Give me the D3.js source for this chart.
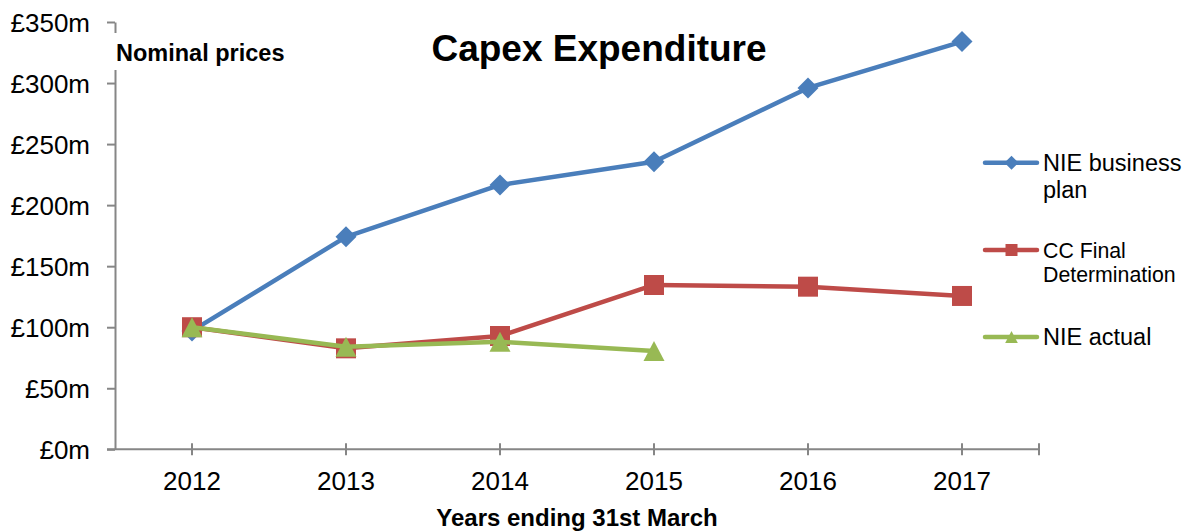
<!DOCTYPE html>
<html>
<head>
<meta charset="utf-8">
<script src="https://cdn.jsdelivr.net/npm/d3@7"></script>
<style>
  body { margin: 0; background: #fff; }
  svg { font-family: "Liberation Sans", Arial, sans-serif; }
</style>
</head>
<body>
<svg id="Chart" width="1194" height="532"></svg>
<script>
var years = ["2012", "2013", "2014", "2015", "2016", "2017"];
var businessPlan = [97, 174, 216.5, 235.5, 296, 334];
var ccFinal = [100, 82.7, 92.8, 134.6, 133.2, 125.6];
var nieActual = [100, 84, 88, 80.6];
var yTicks = [0, 50, 100, 150, 200, 250, 300, 350];

var series = [
  { name: ["NIE business", "plan"], values: businessPlan, color: "#4a7ebb", marker: "diamond" },
  { name: ["CC Final", "Determination"], values: ccFinal, color: "#be4b48", marker: "square" },
  { name: ["NIE actual"], values: nieActual, color: "#98b954", marker: "triangle" }
];
// legend row positions and text sizes
var legendY = [162.7, 250, 337];
var legendFont = [23.5, 21.3, 23.5];

var svg = d3.select("#Chart");
var axisColor = "#868686";

var x = d3.scaleBand().domain(years).range([115, 1039]).padding(0);
var y = d3.scaleLinear().domain([0, 350]).range([449.3, 22]);
function cx(i) { return x(years[i]) + x.bandwidth() / 2; }

// y axis
var yAxis = svg.append("g")
  .attr("transform", "translate(115,0)")
  .call(d3.axisLeft(y).tickValues(yTicks).tickSize(8).tickSizeOuter(0).tickPadding(17)
    .tickFormat(function(d) { return "£" + d + "m"; }));
yAxis.select(".domain").attr("stroke", axisColor).attr("stroke-width", 2);
yAxis.selectAll(".tick line").attr("stroke", axisColor).attr("stroke-width", 2);
yAxis.selectAll(".tick text")
  .attr("font-size", 26).attr("fill", "#000").attr("font-family", "Liberation Sans, Arial, sans-serif")
  .attr("dy", "0.36em");

// x axis
var xAxis = svg.append("g")
  .attr("transform", "translate(0,449.3)")
  .call(d3.axisBottom(x).tickSize(6).tickSizeOuter(0).tickPadding(14));
xAxis.select(".domain").attr("stroke", axisColor).attr("stroke-width", 2)
  .attr("d", "M107,0H1039");
xAxis.selectAll(".tick line").attr("stroke", axisColor).attr("stroke-width", 2).attr("y1", -6).attr("y2", 6);
xAxis.selectAll(".tick text")
  .attr("font-size", 26).attr("fill", "#000").attr("font-family", "Liberation Sans, Arial, sans-serif")
  .attr("y", 41).attr("dy", null);
xAxis.append("line")
  .attr("x1", 1039).attr("x2", 1039).attr("y1", -6).attr("y2", 6)
  .attr("stroke", axisColor).attr("stroke-width", 2);

// label box over the y axis
svg.append("rect").attr("x", 113).attr("y", 33).attr("width", 180).attr("height", 37).attr("fill", "#fff");
svg.append("text").attr("x", 116).attr("y", 60.7)
  .attr("font-size", 23.5).attr("font-weight", "bold").text("Nominal prices");

svg.append("text").attr("x", 599).attr("y", 61).attr("text-anchor", "middle")
  .attr("font-size", 37).attr("font-weight", "bold").text("Capex Expenditure");

svg.append("text").attr("x", 577).attr("y", 526).attr("text-anchor", "middle")
  .attr("font-size", 24).attr("font-weight", "bold").text("Years ending 31st March");

function markerPath(type, s) {
  if (type === "diamond") return "M0," + (-s) + "L" + s + ",0L0," + s + "L" + (-s) + ",0Z";
  if (type === "square") return "M" + (-s) + "," + (-s) + "H" + s + "V" + s + "H" + (-s) + "Z";
  return "M0," + (-s) + "L" + (s * 1.05) + "," + s + "L" + (-s * 1.05) + "," + s + "Z";
}

var line = d3.line()
  .x(function(d, i) { return cx(i); })
  .y(function(d) { return y(d); });

series.forEach(function(s, si) {
  var g = svg.append("g");
  g.append("path")
    .attr("d", line(s.values))
    .attr("fill", "none")
    .attr("stroke", s.color)
    .attr("stroke-width", 4.5)
    .attr("stroke-linejoin", "round");
  g.selectAll("path.mk")
    .data(s.values)
    .enter().append("path")
      .attr("class", "mk")
      .attr("transform", function(d, i) { return "translate(" + cx(i) + "," + y(d) + ")"; })
      .attr("d", markerPath(s.marker, s.marker === "diamond" ? 10.5 : 10))
      .attr("fill", s.color);

  // legend
  var ly = legendY[si], fs = legendFont[si];
  var lg = svg.append("g");
  lg.append("line")
    .attr("x1", 985).attr("x2", 1037).attr("y1", ly).attr("y2", ly)
    .attr("stroke", s.color).attr("stroke-width", 4.5).attr("stroke-linecap", "round");
  lg.append("path")
    .attr("transform", "translate(1011.5," + ly + ")")
    .attr("d", markerPath(s.marker, s.marker === "diamond" ? 7 : 6))
    .attr("fill", s.color);
  s.name.forEach(function(t, k) {
    lg.append("text")
      .attr("x", 1043).attr("y", ly + fs * 0.36 + k * fs * 1.15)
      .attr("font-size", fs).text(t);
  });
});
</script>
</body>
</html>
